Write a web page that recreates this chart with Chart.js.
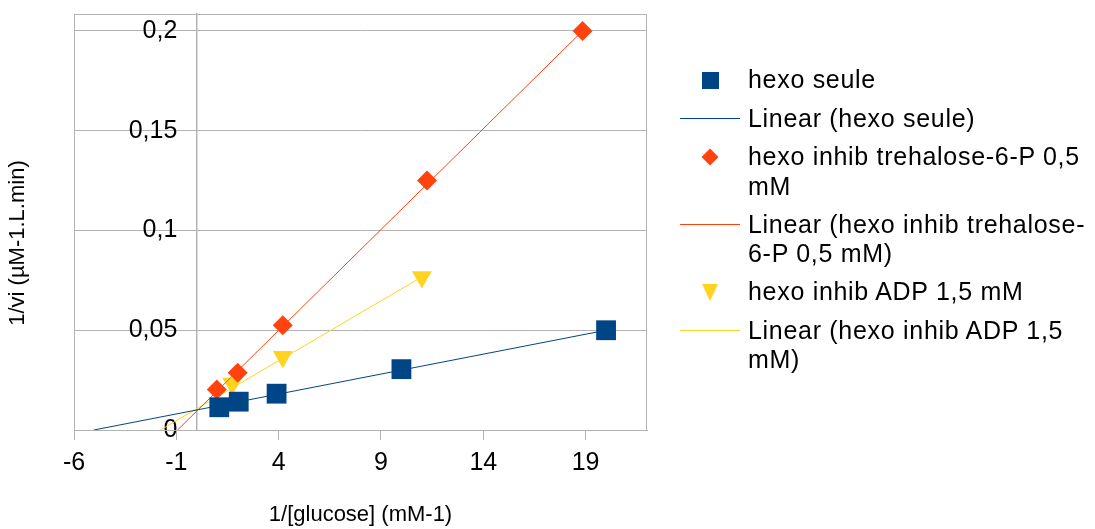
<!DOCTYPE html>
<html>
<head>
<meta charset="utf-8">
<script src="https://cdn.jsdelivr.net/npm/chart.js@4.4.1/dist/chart.umd.min.js"></script>
<style>
    html, body { margin: 0; padding: 0; background: #fff; }
    #wrap { position: relative; width: 1095px; height: 529px; font-family: "Liberation Sans", Arial, sans-serif; }
    #chart { position: absolute; left: 0; top: 0; }
    #legend { position: absolute; left: 680px; top: 65px; width: 415px; }
    .legend-item { display: flex; align-items: flex-start; margin-bottom: 8.5px; }
    .legend-key { width: 60px; height: 30px; display: flex; align-items: center; justify-content: center; flex: none; }
    .legend-text { margin-left: 8px; width: 342px; font-size: 25px; line-height: 29.5px; letter-spacing: 0.7px; color: #000; }
</style>
</head>
<body>
<div id="wrap">
    <canvas id="chart" width="1095" height="529"></canvas>
    <div id="legend"></div>
</div>
<script>

// Values
const seuleX     = [1.1, 2.05, 3.9, 10, 20];
const seuleY     = [0.0114, 0.0142, 0.0182, 0.0305, 0.05];
const trehaloseX = [0.98, 2, 4.2, 11.25, 18.85];
const trehaloseY = [0.0203, 0.0287, 0.0525, 0.125, 0.2];
const adpX       = [1.73, 4.2, 11];
const adpY       = [0.0233, 0.0367, 0.0767];

// Trendline end points (as drawn, clipped at y = 0)
const seuleFitX     = [-5.03, 20];
const seuleFitY     = [0, 0.05];
const trehaloseFitX = [-0.94, 18.85];
const trehaloseFitY = [0, 0.2];
const adpFitX       = [-1.78, 11];
const adpFitY       = [0, 0.0767];

const xTickValues = [-6, -1, 4, 9, 14, 19];
const yTickValues = [0, 0.05, 0.1, 0.15, 0.2];

const BLUE   = "#004586";
const ORANGE = "#ff420e";
const YELLOW = "#ffd320";
const GRID   = "#b3b3b3";
const FONT   = "'Liberation Sans', Arial, sans-serif";
const Y_MAX  = 0.2085;

const pts = (xs, ys) => xs.map((x, i) => ({ x, y: ys[i] }));
const fmt = v => String(+v.toFixed(2)).replace(".", ",");
const noPad = s => { s.paddingTop = 0; s.paddingBottom = 0; s.paddingLeft = 0; s.paddingRight = 0; };

const frame = {
    id: "frame",
    beforeDatasetsDraw(chart){
        const { ctx, chartArea: a } = chart;
        ctx.save();
        ctx.strokeStyle = GRID;
        ctx.lineWidth = 1;
        ctx.strokeRect(a.left + 0.5, a.top + 0.5, a.right - a.left - 1, a.bottom - a.top);
        ctx.restore();
    }
};

const yTitle = {
    id: "yTitle",
    afterDraw(chart){
        const ctx = chart.ctx;
        ctx.save();
        ctx.translate(18, 243);
        ctx.rotate(-Math.PI / 2);
        ctx.font = "22px " + FONT;
        ctx.fillStyle = "#000";
        ctx.textAlign = "center";
        ctx.textBaseline = "middle";
        ctx.fillText("1/vi (µM-1.L.min)", 0, 0);
        ctx.restore();
    }
};

const datasets = [
    {
        label: "hexo seule", data: pts(seuleX, seuleY),
        pointStyle: "rect", pointRadius: 14, backgroundColor: BLUE, borderColor: BLUE, borderWidth: 0
    },
    {
        label: "Linear (hexo seule)", data: pts(seuleFitX, seuleFitY),
        showLine: true, pointRadius: 0, borderColor: BLUE, borderWidth: 1
    },
    {
        label: "hexo inhib trehalose-6-P 0,5 mM", data: pts(trehaloseX, trehaloseY),
        pointStyle: "rectRot", pointRadius: 10, backgroundColor: ORANGE, borderColor: ORANGE, borderWidth: 0
    },
    {
        label: "Linear (hexo inhib trehalose-6-P 0,5 mM)", data: pts(trehaloseFitX, trehaloseFitY),
        showLine: true, pointRadius: 0, borderColor: ORANGE, borderWidth: 1
    },
    {
        label: "hexo inhib ADP 1,5 mM", data: pts(adpX, adpY),
        pointStyle: "triangle", rotation: 180, pointRadius: 11.5, backgroundColor: YELLOW, borderColor: YELLOW, borderWidth: 0
    },
    {
        label: "Linear (hexo inhib ADP 1,5 mM)", data: pts(adpFitX, adpFitY),
        showLine: true, pointRadius: 0, borderColor: YELLOW, borderWidth: 1
    }
];
const keyColors = [BLUE, BLUE, ORANGE, ORANGE, YELLOW, YELLOW];
const keyStyles = ["rect", "line", "rectRot", "line", "triangle", "line"];

const chart = new Chart(document.getElementById("chart"), {
    type: "scatter",
    data: { datasets },
    options: {
        responsive: false,
        animation: false,
        layout: { padding: { left: 74, right: 448, top: 10, bottom: 0 } },
        plugins: {
            legend:  { display: false },
            tooltip: { enabled: false }
        },
        scales: {
            x: {
                type: "linear", min: -6, max: 22,
                afterBuildTicks: s => { s.ticks = xTickValues.map(v => ({ value: v })); },
                afterFit: s => { s.height = 99; noPad(s); },
                grid:   { drawOnChartArea: false, tickLength: 10, color: GRID },
                border: { color: GRID },
                ticks:  { color: "#000", padding: 8, font: { size: 25, family: FONT }, callback: v => fmt(v), maxRotation: 0 },
                title:  { display: true, text: "1/[glucose] (mM-1)", color: "#000",
                          font: { size: 22, family: FONT }, padding: { top: 4, bottom: 1 } }
            },
            // axis line, grid and tick marks on x = 0
            y: {
                type: "linear", position: { x: 0 }, min: 0, max: Y_MAX,
                afterBuildTicks: s => { s.ticks = yTickValues.map(v => ({ value: v })); },
                afterFit: noPad,
                grid:   { tickLength: 10, color: GRID },
                border: { color: GRID, width: 1.5 },
                ticks:  { display: false }
            },
            // tick labels, set a little left of the axis
            yLabels: {
                type: "linear", position: { x: -0.95 }, min: 0, max: Y_MAX,
                afterBuildTicks: s => { s.ticks = yTickValues.map(v => ({ value: v })); },
                afterFit: noPad,
                grid:   { display: false },
                border: { display: false },
                ticks:  { color: "#000", font: { size: 25, family: FONT }, callback: v => fmt(v) }
            }
        }
    },
    plugins: [frame, yTitle]
});

// HTML legend, marker column then wrapped label
function keyHtml(style, color){
    if(style === "line"){
        return `<div style="width:60px;height:1px;background:${color};"></div>`;
    }
    if(style === "rect"){
        return `<div style="width:17px;height:17px;background:${color};"></div>`;
    }
    if(style === "rectRot"){
        return `<div style="width:12px;height:12px;background:${color};transform:rotate(45deg);"></div>`;
    }
    return `<div style="width:0;height:0;border-left:8.5px solid transparent;border-right:8.5px solid transparent;border-top:17px solid ${color};"></div>`;
}

const legend = document.getElementById("legend");
chart.data.datasets.forEach((ds, i) => {
    const item = document.createElement("div");
    item.className = "legend-item";
    item.innerHTML = `
        <div class="legend-key">${keyHtml(keyStyles[i], keyColors[i])}</div>
        <div class="legend-text">${ds.label.replace(/-(?=\d)/g, "-\u200B")}</div>
    `;
    legend.appendChild(item);
});
</script>
</body>
</html>
